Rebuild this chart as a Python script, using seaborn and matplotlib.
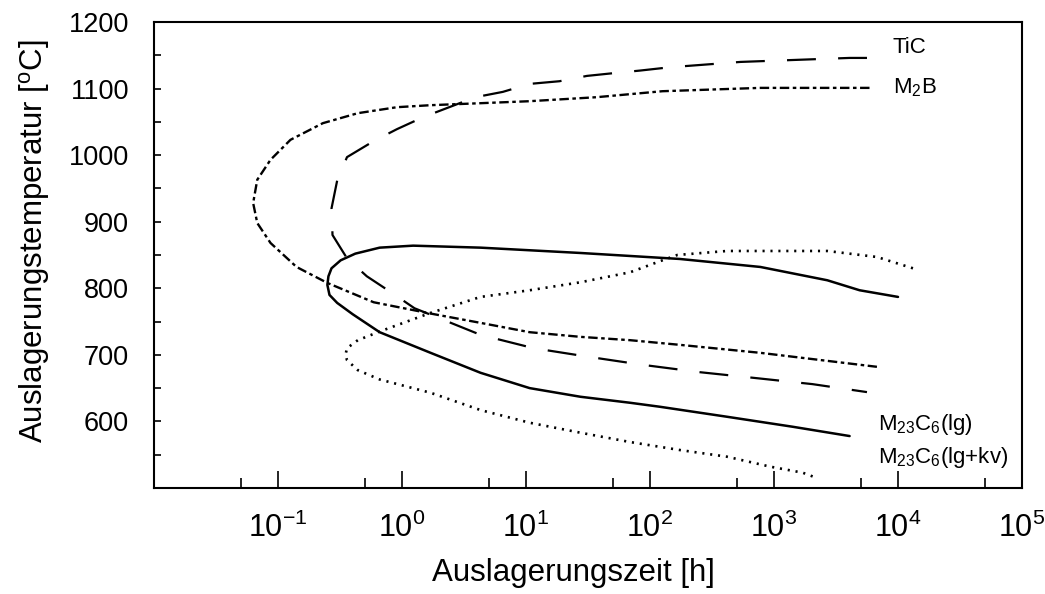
import numpy as np
import pandas as pd
import matplotlib
matplotlib.use("Agg")
import matplotlib.pyplot as plt
from matplotlib.ticker import NullFormatter
import seaborn as sns

# ---------------- data (time in hours, temperature in °C) ----------------
tic_t = [5620, 4070, 537, 145, 83, 50, 31, 18.6, 10.7, 6.5, 3.9, 1.48, 0.91,
         0.59, 0.36, 0.30, 0.27, 0.275, 0.36, 0.52, 0.83, 1.26, 2.0, 4.3,
         11.5, 32, 87, 250, 720, 2040, 5620]
tic_T = [1146, 1146, 1140, 1132, 1127, 1123, 1119, 1111, 1107, 1095, 1087,
         1057, 1039, 1021, 997, 962, 920, 880, 845, 818, 793, 770, 755, 730,
         710, 697, 685, 674, 665, 656, 644]

m2b_t = [5890, 776, 126, 37, 10.7, 4.3, 1.7, 0.91, 0.44, 0.23, 0.126, 0.087,
         0.068, 0.063, 0.068, 0.087, 0.141, 0.25, 0.59, 1.7, 4.3, 10.7, 27.5,
         69, 174, 776, 6760]
m2b_T = [1101, 1101, 1096, 1087, 1081, 1078, 1075, 1072, 1063, 1048, 1023,
         993, 963, 928, 898, 868, 832, 808, 779, 762, 748, 734, 727, 722,
         715, 703, 682]

lg_t = [10000, 4900, 2690, 776, 174, 27.5, 4.3, 1.23, 0.66, 0.42, 0.32,
        0.27, 0.255, 0.25, 0.26, 0.30, 0.40, 0.66, 1.7, 4.3, 10.7, 27.5,
        69, 120, 417, 1410, 4070]
lg_T = [787, 797, 812, 832, 844, 853, 861, 864, 861, 852, 842, 830, 818,
        805, 790, 778, 761, 734, 703, 673, 650, 637, 628, 622, 607, 592, 578]

kv_t = [13200, 6760, 2690, 417, 166, 126, 69, 27.5, 10.7, 4.3, 1.7, 0.66,
        0.44, 0.36, 0.35, 0.36, 0.44, 0.66, 1.7, 4.3, 10.7, 27.5, 69, 174,
        417, 933, 1700, 2140]
kv_T = [830, 847, 856, 856, 850, 842, 824, 809, 797, 787, 763, 735, 722,
        710, 700, 692, 677, 663, 643, 617, 598, 583, 569, 557, 547, 532, 523,
        516]

labels = ["TiC", "M$_2$B", "M$_{23}$C$_6$(lg)", "M$_{23}$C$_6$(lg+kv)"]
label_t = [9100, 9100, 6900, 6900]
label_T = [1162, 1101, 596, 546]

x_major = [1e-1, 1e0, 1e1, 1e2, 1e3, 1e4, 1e5]
x_minor = [5e-2, 5e-1, 5e0, 5e1, 5e2, 5e3, 5e4]
y_major = [600, 700, 800, 900, 1000, 1100, 1200]
y_minor = [550, 650, 750, 850, 950, 1050, 1150]

# ---------------- style ----------------
sns.set_style("white")
plt.rcParams["font.family"] = ["Liberation Sans", "DejaVu Sans"]
plt.rcParams["mathtext.fontset"] = "custom"
plt.rcParams["mathtext.rm"] = "Liberation Sans"
plt.rcParams["mathtext.it"] = "Liberation Sans:italic"
plt.rcParams["mathtext.bf"] = "Liberation Sans:bold"
plt.rcParams["mathtext.default"] = "regular"
for key in ["text.color", "axes.labelcolor", "xtick.color", "ytick.color",
            "axes.edgecolor"]:
    plt.rcParams[key] = "black"

fig = plt.figure(figsize=(10.45, 5.94), dpi=100)
ax = fig.add_axes([0.1474, 0.1785, 0.8306, 0.7845])

curves = [
    (tic_t, tic_T, (0, (13, 10)), 1.6),
    (m2b_t, m2b_T, (0, (4, 1.5, 1.5, 1.5)), 1.7),
    (lg_t, lg_T, "-", 1.8),
    (kv_t, kv_T, (0, (0.8, 2.2)), 1.9),
]
for t, T, ls, lw in curves:
    df = pd.DataFrame({"t": t, "T": T})
    sns.lineplot(data=df, x="t", y="T", sort=False, estimator=None,
                 color="black", linewidth=lw, linestyle=ls, ax=ax)

for lab, lt, lT in zip(labels, label_t, label_T):
    ax.text(lt, lT, lab, fontsize=16, ha="left", va="center", color="black")

ax.set_xscale("log")
ax.set_xlim(1e-2, 1e5)
ax.set_ylim(500, 1200)
ax.set_xticks(x_major)
ax.set_xticks(x_minor, minor=True)
ax.xaxis.set_minor_formatter(NullFormatter())
ax.set_yticks(y_major)
ax.set_yticks(y_minor, minor=True)

ax.tick_params(axis="x", which="major", direction="in", length=12, width=1.2,
               labelsize=22, pad=18, bottom=True, top=False)
ax.tick_params(axis="x", which="minor", direction="in", length=7, width=1.2,
               bottom=True, top=False)
ax.tick_params(axis="y", which="both", direction="in", length=5, width=1.2,
               labelsize=19.5, pad=18, left=True, right=False)

for s in ax.spines.values():
    s.set_linewidth(1.5)
    s.set_color("black")

ax.set_xlabel("Auslagerungszeit [h]", fontsize=22.5, labelpad=10)
ax.set_ylabel("Auslagerungstemperatur [$^{\\mathrm{o}}$C]", fontsize=22.5,
              labelpad=12)
ax.xaxis.label.set_x(0.483)
ax.yaxis.label.set_y(0.53)

fig.savefig("out.png", dpi=100)
